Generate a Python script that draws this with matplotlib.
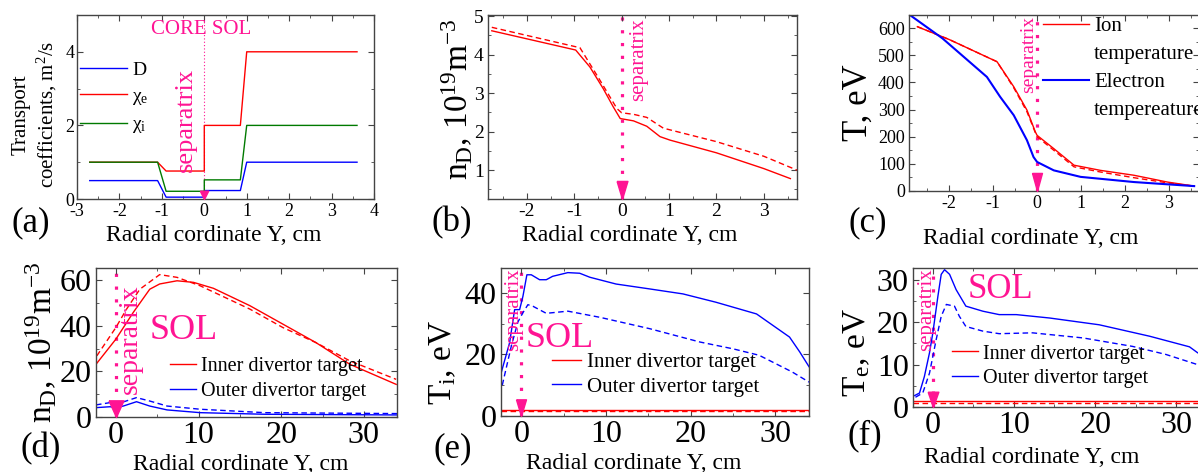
import numpy as np
import matplotlib
matplotlib.use("Agg")
import matplotlib.pyplot as plt
from matplotlib.ticker import MultipleLocator
from matplotlib.lines import Line2D

plt.rcParams["font.family"] = ["Liberation Serif", "DejaVu Serif"]
plt.rcParams["mathtext.fontset"] = "custom"
plt.rcParams["mathtext.rm"] = "Liberation Serif"
plt.rcParams["mathtext.it"] = "Liberation Serif:italic"
plt.rcParams["mathtext.default"] = "regular"
plt.rcParams["axes.unicode_minus"] = False

PINK = "#ff1493"
RED = "#ff0000"
BLUE = "#0000ff"
GREEN = "#007a00"
SEP = 0.0  # separatrix position, cm

# (a) transport coefficients
a_y = [-2.7, -1.1, -0.9, 0.0, 0.0, 0.85, 1.0, 3.6]
a_D = [0.5, 0.5, 0.05, 0.05, 0.23, 0.23, 1.0, 1.0]
a_chie = [1.0, 1.0, 0.76, 0.76, 2.0, 2.0, 4.0, 4.0]
a_chii = [1.0, 1.0, 0.21, 0.21, 0.52, 0.52, 2.0, 2.0]

# (b) density profile
b_y = [-2.74, -0.97, -0.67, -0.39, -0.18, -0.03, 0.25, 0.53, 0.81, 1.02, 2.0, 3.0, 3.56]
b_n = [4.62, 4.12, 3.68, 3.12, 2.65, 2.34, 2.28, 2.14, 1.87, 1.78, 1.45, 1.04, 0.78]
b_y2 = [-2.74, -0.88, -0.46, -0.1, 0.0, 0.25, 0.53, 0.88, 2.0, 3.0, 3.7]
b_n2 = [4.71, 4.18, 3.34, 2.6, 2.49, 2.45, 2.37, 2.09, 1.74, 1.36, 1.0]

# (c) temperatures
c_yi = [-2.72, -2.0, -0.91, -0.53, -0.23, -0.04, 0.0, 0.38, 0.84, 1.44, 2.2, 2.96, 3.57]
c_Ti = [605, 558, 476, 384, 298, 218, 205, 156, 95, 76, 58, 33, 18]
c_Ti2 = [605, 558, 476, 380, 292, 215, 200, 150, 89, 70, 49, 30, 18]
c_ye = [-2.89, -2.15, -1.14, -0.84, -0.53, -0.23, -0.08, 0.0, 0.38, 0.99, 2.2, 3.57]
c_Te = [648, 562, 420, 347, 279, 187, 125, 107, 76, 52, 33, 18]

# (d) density at divertor targets
d_y = [-2.4, 0.0, 2.1, 4.1, 5.3, 7.4, 9.4, 11.8, 16.2, 20.2, 24.2, 28.3, 33.9]
d_inner = [23.1, 34.1, 45.8, 56.0, 58.3, 59.7, 59.0, 56.4, 48.8, 40.7, 32.6, 23.1, 14.3]
d_y2 = [-2.3, 0.0, 1.3, 2.9, 5.3, 7.4, 10.2, 16.2, 20.2, 24.2, 28.3, 33.9]
d_inner2 = [26.8, 39.2, 47.3, 56.0, 62.4, 61.2, 57.5, 47.3, 39.2, 32.6, 24.6, 16.5]
d_yo = [-2.4, -0.7, 0.0, 0.9, 2.5, 4.1, 6.2, 10.2, 18.0, 34.0]
d_outer = [4.1, 4.5, 4.1, 4.8, 6.7, 4.8, 3.1, 1.9, 1.2, 0.9]
d_outer2 = [5.3, 6.3, 6.4, 6.6, 8.5, 7.0, 4.8, 3.4, 1.9, 1.5]

# (e) ion temperature at targets
e_y = [-2.37, -1.38, -0.79, -0.2, 0.19, 0.66, 1.18, 2.16, 2.95, 3.7, 5.5, 6.9, 8.1,
       11.2, 15.2, 19.1, 23.0, 27.8, 31.7, 32.9, 34.0]
e_outer = [14.1, 23.8, 34.5, 34.5, 38.8, 45.8, 45.8, 44.2, 44.2, 45.3, 46.5, 46.3, 45.0,
           42.8, 41.2, 39.6, 36.9, 33.1, 25.6, 20.8, 16.0]
e_y2 = [-2.25, -1.18, -0.4, 0.19, 0.78, 1.37, 2.95, 5.5, 9.3, 15.2, 21.1, 25.0, 28.1, 32.0, 34.0]
e_outer2 = [10.0, 22.7, 30.5, 33.5, 36.1, 35.6, 33.3, 34.0, 32.0, 28.3, 24.0, 21.8, 19.7, 14.3, 11.0]
e_inner = [2.0, 2.0]
e_inner2 = [1.6, 1.6]
e_yi = [-2.4, 34.0]

# (f) electron temperature at targets
f_y = [-2.2, -1.6, -1.0, -0.37, 0.04, 0.66, 1.07, 1.48, 2.1, 2.9, 4.1, 6.2, 8.2, 10.3,
       14.4, 20.5, 26.7, 31.6, 32.6, 34.0]
f_outer = [2.7, 3.3, 7.2, 12.8, 17.5, 26.1, 31.3, 32.4, 31.3, 27.7, 23.8, 22.6, 21.8, 21.8,
           21.0, 19.4, 16.7, 14.2, 12.8, 11.5]
f_y2 = [-2.1, -1.2, -0.37, 0.45, 1.07, 1.7, 2.7, 3.3, 4.1, 6.2, 8.2, 12.3, 18.5, 24.6,
        28.7, 32.6, 34.0]
f_outer2 = [2.3, 3.3, 8.0, 15.9, 21.4, 24.2, 23.8, 21.4, 19.0, 17.9, 17.3, 17.5, 16.3, 14.3,
            12.4, 10.0, 9.0]
f_inner = [1.3, 1.3]
f_inner2 = [1.0, 1.0]
f_yi = [-2.4, 34.0]

XLABEL = "Radial cordinate Y, cm"

W, H = 1198, 472
fig = plt.figure(figsize=(W / 100, H / 100), dpi=100)


def make_ax(l, t, r, b):
    return fig.add_axes([l / W, 1 - b / H, (r - l) / W, (b - t) / H])


def style(ax, xmaj, xmin, ymaj, ymin, fs):
    ax.xaxis.set_major_locator(MultipleLocator(xmaj))
    ax.xaxis.set_minor_locator(MultipleLocator(xmin))
    ax.yaxis.set_major_locator(MultipleLocator(ymaj))
    ax.yaxis.set_minor_locator(MultipleLocator(ymin))
    ax.tick_params(which="both", direction="in", top=True, right=True,
                   labelsize=fs, color="#444444")
    ax.tick_params(which="major", length=4, pad=3)
    ax.tick_params(which="minor", length=2)
    for s in ax.spines.values():
        s.set_color("#444444")
        s.set_linewidth(1.0)


def tri(width):
    return [(-width, 2), (width, 2), (0, 0), (-width, 2)]


def separatrix(ax, lw, gap, ms, width, tx, ty, fs):
    ax.axvline(SEP, color=PINK, lw=lw, ls=(0, (1, gap)), zorder=1)
    ax.plot([SEP], [0.0], marker=tri(width), ms=ms, color=PINK, ls="none",
            transform=ax.get_xaxis_transform(), clip_on=False, zorder=5)
    ax.text(tx, ty, "separatrix", rotation=90, color=PINK, ha="center",
            va="top", fontsize=fs)


# ---------------- (a)
ax = make_ax(77, 15, 374, 199)
ax.plot(a_y, a_D, color=BLUE, lw=1, label="D")
ax.plot(a_y, a_chie, color=RED, lw=1, label="χ$_\\mathrm{e}$")
ax.plot(a_y, a_chii, color=GREEN, lw=1, label="χ$_\\mathrm{i}$")
ax.set_xlim(-3, 4)
ax.set_ylim(0, 5)
style(ax, 1, 0.5, 2, 1, 13)
ax.tick_params(axis="y", pad=2)
separatrix(ax, 0.8, 2, 12, 1.0, -0.44, 3.56, 19)
ax.text(-0.07, 4.6, "CORE SOL", color=PINK, ha="center", va="center", fontsize=15)
ax.legend(loc="upper left", bbox_to_anchor=(0.01, 0.75), frameon=False,
          fontsize=14, handlelength=2.4, handletextpad=0.3, labelspacing=0.45,
          borderpad=0, borderaxespad=0)
ax.set_xlabel(XLABEL, fontsize=17, va="center")
ax.xaxis.set_label_coords(0.46, -0.2)
ax.set_ylabel("Transport\ncoefficients, m$^2$/s", fontsize=15, va="center",
              linespacing=1.25)
ax.yaxis.set_label_coords(-0.14, 0.46)

# ---------------- (b)
ax = make_ax(488, 15, 797, 199)
ax.plot(b_y, b_n, color=RED, lw=1)
ax.plot(b_y2, b_n2, color=RED, lw=1, ls=(0, (4, 2.5)))
ax.set_xlim(-2.82, 3.7)
ax.set_ylim(0.25, 5.03)
style(ax, 1, 0.5, 1, 0.5, 14)
separatrix(ax, 2.3, 3, 26, 0.6, 0.35, 4.95, 15)
ax.set_xlabel(XLABEL, fontsize=17, va="center")
ax.xaxis.set_label_coords(0.46, -0.2)
ax.set_ylabel("n$_\\mathrm{D}$, 10$^{19}$m$^{-3}$", fontsize=24, va="center")
ax.yaxis.set_label_coords(-0.1, 0.54)

# ---------------- (c)
ax = make_ax(909, 15, 1199, 191)
ax.plot(c_yi, c_Ti2, color=RED, lw=1, ls=(0, (4, 2.5)))
ax.plot(c_yi, c_Ti, color=RED, lw=1)
ax.plot(c_ye, c_Te, color=BLUE, lw=1.5)
ax.set_xlim(-2.91, 3.68)
ax.set_ylim(0, 648)
style(ax, 1, 0.5, 100, 50, 13)
separatrix(ax, 2.3, 3, 26, 0.55, -0.19, 645, 14)
blank = Line2D([], [], color="none")
ax.legend([Line2D([], [], color=RED, lw=1), blank,
           Line2D([], [], color=BLUE, lw=1.5), blank],
          ["Ion", "temperature", "Electron", "tempereature"],
          loc="upper left", bbox_to_anchor=(0.462, 0.99), frameon=False,
          fontsize=15, handlelength=2.2, handletextpad=0.25, labelspacing=0.4,
          borderpad=0, borderaxespad=0)
ax.set_xlabel(XLABEL, fontsize=17, va="center")
ax.xaxis.set_label_coords(0.42, -0.27)
ax.set_ylabel("T, eV", fontsize=25, va="center")
ax.yaxis.set_label_coords(-0.176, 0.5)

# ---------------- (d)
ax = make_ax(96, 268, 397, 417)
ax.plot(d_y, d_inner, color=RED, lw=1, label="Inner divertor target")
ax.plot(d_y2, d_inner2, color=RED, lw=1, ls=(0, (4, 2.5)))
ax.plot(d_yo, d_outer, color=BLUE, lw=1, label="Outer divertor target")
ax.plot(d_yo, d_outer2, color=BLUE, lw=1, ls=(0, (4, 2.5)))
ax.set_xlim(-2.4, 34)
ax.set_ylim(0, 65.3)
style(ax, 10, 5, 20, 10, 23)
separatrix(ax, 2.3, 3, 24, 0.9, 1.8, 58, 20)
ax.text(8.2, 37.7, "SOL", color=PINK, ha="center", va="center", fontsize=26)
ax.legend(loc="upper left", bbox_to_anchor=(0.246, 0.40), frameon=False,
          fontsize=14.5, handlelength=1.3, handletextpad=0.25, labelspacing=0.25,
          borderpad=0, borderaxespad=0)
ax.set_xlabel(XLABEL, fontsize=17, va="center")
ax.xaxis.set_label_coords(0.48, -0.32)
ax.set_ylabel("n$_\\mathrm{D}$, 10$^{19}$m$^{-3}$", fontsize=24, va="center")
ax.yaxis.set_label_coords(-0.18, 0.5)

# ---------------- (e)
ax = make_ax(501, 268, 809, 416)
ax.plot(e_yi, e_inner, color=RED, lw=1, label="Inner divertor target")
ax.plot(e_yi, e_inner2, color=RED, lw=1, ls=(0, (4, 2.5)))
ax.plot(e_y, e_outer, color=BLUE, lw=1, label="Outer divertor target")
ax.plot(e_y2, e_outer2, color=BLUE, lw=1, ls=(0, (4, 2.5)))
ax.set_xlim(-2.4, 34)
ax.set_ylim(0, 48)
style(ax, 10, 5, 20, 10, 23)
separatrix(ax, 2.3, 3, 24, 0.6, -0.9, 47.8, 15)
ax.text(4.5, 25, "SOL", color=PINK, ha="center", va="center", fontsize=26)
ax.legend(loc="upper left", bbox_to_anchor=(0.166, 0.43), frameon=False,
          fontsize=15, handlelength=1.4, handletextpad=0.25, labelspacing=0.25,
          borderpad=0, borderaxespad=0)
ax.set_xlabel(XLABEL, fontsize=17, va="center")
ax.xaxis.set_label_coords(0.43, -0.32)
ax.set_ylabel("T$_\\mathrm{i}$, eV", fontsize=24, va="center")
ax.yaxis.set_label_coords(-0.19, 0.36)

# ---------------- (f)
ax = make_ax(913, 268, 1209, 407)
ax.plot(f_yi, f_inner, color=RED, lw=1, label="Inner divertor target")
ax.plot(f_yi, f_inner2, color=RED, lw=1, ls=(0, (4, 2.5)))
ax.plot(f_y, f_outer, color=BLUE, lw=1, label="Outer divertor target")
ax.plot(f_y2, f_outer2, color=BLUE, lw=1, ls=(0, (4, 2.5)))
ax.set_xlim(-2.4, 34)
ax.set_ylim(0, 32.8)
style(ax, 10, 5, 10, 5, 23)
separatrix(ax, 2.3, 3, 22, 0.7, -0.7, 32.7, 15)
ax.text(8.4, 27.8, "SOL", color=PINK, ha="center", va="center", fontsize=25)
ax.legend(loc="upper left", bbox_to_anchor=(0.132, 0.45), frameon=False,
          fontsize=14.5, handlelength=1.3, handletextpad=0.25, labelspacing=0.25,
          borderpad=0, borderaxespad=0)
ax.set_xlabel(XLABEL, fontsize=17, va="center")
ax.xaxis.set_label_coords(0.4, -0.36)
ax.set_ylabel("T$_\\mathrm{e}$, eV", fontsize=24, va="center")
ax.yaxis.set_label_coords(-0.19, 0.39)

# panel letters
for lab, px, py in [("(a)", 31, 223), ("(b)", 452, 223), ("(c)", 868, 223),
                    ("(d)", 41, 449), ("(e)", 453, 449), ("(f)", 865, 436)]:
    fig.text(px / W, 1 - py / H, lab, fontsize=25, ha="center", va="center")

fig.savefig("out.png", dpi=100)
